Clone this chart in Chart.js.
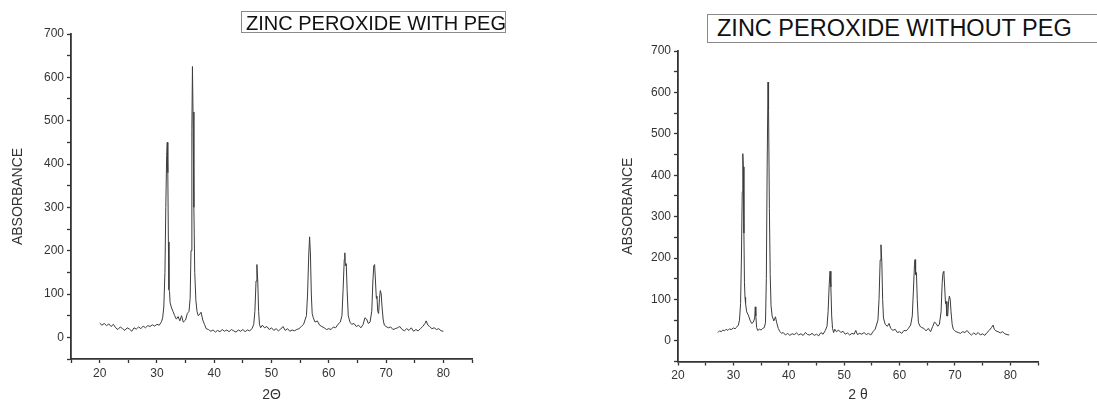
<!DOCTYPE html>
<html>
<head>
<meta charset="utf-8">
<script src="https://cdn.jsdelivr.net/npm/chart.js@4.4.1/dist/chart.umd.min.js"></script>
<style>
    body { margin: 0; width: 1097px; height: 402px; overflow: hidden; background: #fff; position: relative; font-family: "Liberation Sans", Arial, sans-serif; }
    .plot { position: absolute; top: 0; }
    .title-box { position: absolute; border: 1px solid #8a8a8a; color: #111; white-space: nowrap; line-height: 1; background: #fff; z-index: 2; }
</style>
</head>
<body>
<div class="plot" style="left:0;width:550px;height:404px;"><canvas id="withPeg"></canvas></div>
<div class="plot" style="left:550px;width:547px;height:404px;"><canvas id="withoutPeg"></canvas></div>
<div class="title-box" style="left:241px;top:11px;width:265px;height:22px;font-size:20px;padding:1px 0 0 4px;box-sizing:border-box;">ZINC PEROXIDE WITH PEG</div>
<div class="title-box" style="left:707px;top:14px;width:420px;height:29px;font-size:23.5px;padding:2px 0 0 9px;box-sizing:border-box;">ZINC PEROXIDE WITHOUT PEG</div>
<script>
// 2θ positions and intensities
const withPegX = [20, 20.4, 20.8, 21.2, 21.6, 22, 22.4, 22.8, 23.2, 23.6, 24, 24.4, 24.8, 25.2, 25.6, 26, 26.4, 26.8, 27.2, 27.6, 28, 28.4, 28.8, 29.2, 29.6, 30, 30.4, 30.8, 31.0, 31.2, 31.4, 31.55, 31.7, 31.8, 31.9, 32.0, 32.1, 32.2, 32.3, 32.5, 32.8, 33.1, 33.4, 33.7, 34, 34.3, 34.6, 35, 35.3, 35.6, 35.8, 35.95, 36.1, 36.2, 36.3, 36.45, 36.6, 36.8, 37.0, 37.2, 37.4, 37.7, 38, 38.3, 38.6, 39, 39.4, 39.8, 40.2, 40.6, 41, 41.4, 41.8, 42.2, 42.6, 43, 43.4, 43.8, 44.2, 44.6, 45, 45.4, 45.8, 46.2, 46.6, 46.9, 47.1, 47.3, 47.45, 47.6, 47.75, 47.9, 48.1, 48.4, 48.8, 49.2, 49.6, 50, 50.4, 50.8, 51.2, 51.6, 52, 52.4, 52.8, 53.2, 53.6, 54, 54.4, 54.8, 55.2, 55.6, 56.1, 56.3, 56.5, 56.65, 56.8, 56.95, 57.1, 57.3, 57.6, 58, 58.4, 58.8, 59.2, 59.6, 60, 60.4, 60.8, 61.2, 61.6, 62, 62.3, 62.5, 62.7, 62.8, 62.9, 63.05, 63.2, 63.4, 63.7, 64, 64.4, 64.8, 65.2, 65.6, 66, 66.3, 66.6, 66.9, 67.2, 67.5, 67.7, 67.85, 68.0, 68.15, 68.3, 68.4, 68.55, 68.7, 68.85, 69.0, 69.15, 69.3, 69.5, 69.7, 70, 70.4, 70.8, 71.2, 71.6, 72, 72.4, 72.8, 73.2, 73.6, 74, 74.4, 74.8, 75.2, 75.6, 76, 76.4, 76.8, 77.0, 77.3, 77.6, 78, 78.4, 78.8, 79.2, 79.6, 80];
const withPegY = [33, 28, 32, 27, 31, 25, 30, 22, 18, 24, 20, 16, 22, 19, 14, 22, 19, 24, 20, 26, 22, 27, 25, 29, 26, 30, 28, 36, 45, 70, 150, 300, 420, 450, 380, 220, 110, 105, 80, 70, 60, 50, 42, 48, 38, 50, 35, 40, 55, 60, 90, 200, 480, 625, 520, 300, 150, 85, 60, 50, 52, 58, 40, 30, 20, 18, 14, 17, 12, 16, 13, 18, 14, 17, 13, 18, 15, 12, 17, 14, 18, 13, 17, 15, 20, 30, 60, 130, 168, 130, 60, 30, 22, 28, 22, 25, 18, 22, 16, 20, 15, 19, 25, 16, 20, 14, 17, 15, 18, 20, 25, 30, 50, 100, 190, 232, 190, 100, 55, 45, 35, 38, 28, 25, 22, 18, 20, 18, 24, 22, 30, 35, 50, 110, 180, 195, 165, 170, 110, 50, 35, 30, 32, 25, 28, 22, 30, 45, 42, 32, 35, 60, 130, 165, 168, 130, 90, 95, 60, 55, 90, 108, 100, 70, 40, 28, 25, 22, 24, 18, 20, 22, 25, 18, 15, 20, 16, 22, 14, 18, 15, 20, 25, 32, 38, 28, 25, 20, 22, 18, 20, 15, 14];

const withoutPegX = [27.2, 27.5, 27.8, 28.1, 28.4, 28.7, 29, 29.3, 29.6, 30, 30.3, 30.6, 30.9, 31.1, 31.3, 31.45, 31.6, 31.7, 31.8, 31.9, 32.0, 32.1, 32.2, 32.4, 32.7, 33, 33.3, 33.6, 33.85, 33.95, 34.05, 34.2, 34.4, 34.7, 35, 35.3, 35.6, 35.8, 35.95, 36.1, 36.25, 36.35, 36.5, 36.65, 36.8, 37.0, 37.3, 37.6, 37.8, 38.1, 38.4, 38.7, 39, 39.4, 39.8, 40.2, 40.6, 41, 41.4, 41.8, 42.2, 42.6, 43, 43.4, 43.8, 44.2, 44.6, 45, 45.4, 45.8, 46.2, 46.6, 46.9, 47.1, 47.3, 47.45, 47.6, 47.75, 47.9, 48.1, 48.3, 48.6, 49, 49.4, 49.8, 50.2, 50.6, 51, 51.4, 51.8, 52.1, 52.4, 52.8, 53.2, 53.6, 54, 54.4, 54.8, 55.2, 55.6, 56.1, 56.3, 56.5, 56.65, 56.8, 56.95, 57.1, 57.4, 57.8, 58.1, 58.4, 58.8, 59.2, 59.6, 60, 60.4, 60.8, 61.2, 61.6, 62, 62.3, 62.5, 62.7, 62.8, 62.9, 63.05, 63.2, 63.4, 63.7, 64, 64.4, 64.8, 65.2, 65.6, 66, 66.3, 66.6, 66.9, 67.2, 67.5, 67.7, 67.85, 68.0, 68.15, 68.3, 68.4, 68.55, 68.7, 68.85, 69.0, 69.15, 69.3, 69.5, 69.7, 69.9, 70.2, 70.6, 71, 71.4, 71.8, 72.2, 72.6, 73, 73.4, 73.8, 74.2, 74.6, 75, 75.4, 75.8, 76.2, 76.6, 76.9, 77.1, 77.4, 77.8, 78.2, 78.6, 79, 79.4, 79.8, 80];
const withoutPegY = [20, 24, 22, 26, 24, 28, 25, 29, 27, 31, 29, 33, 38, 50, 90, 200, 360, 452, 420, 260, 140, 105, 90, 70, 62, 50, 42, 45, 55, 82, 60, 32, 25, 28, 26, 30, 32, 45, 150, 420, 625, 560, 320, 160, 85, 60, 48, 58, 45, 30, 22, 18, 20, 14, 18, 13, 17, 15, 19, 14, 17, 13, 20, 15, 14, 18, 13, 16, 12, 20, 16, 25, 35, 70, 135, 168, 130, 60, 30, 20, 28, 22, 26, 20, 23, 16, 19, 14, 18, 16, 25, 15, 18, 16, 20, 15, 18, 14, 22, 28, 50, 100, 195, 232, 190, 100, 55, 40, 35, 42, 30, 25, 28, 20, 22, 18, 25, 24, 30, 38, 60, 120, 185, 196, 160, 165, 100, 45, 35, 32, 30, 24, 30, 22, 35, 45, 42, 35, 40, 70, 140, 165, 168, 130, 90, 95, 60, 60, 95, 108, 100, 70, 40, 28, 25, 22, 20, 18, 22, 20, 25, 18, 14, 19, 15, 20, 14, 17, 13, 20, 25, 32, 38, 28, 24, 22, 19, 22, 17, 15, 14];

const yLabels = [0, 100, 200, 300, 400, 500, 600, 700];
const xLabels = [20, 30, 40, 50, 60, 70, 80];

const axisColor = '#333';
const tickFont = { family: '"Liberation Sans", Arial, sans-serif', size: 12 };
const titleFont = { family: '"Liberation Sans", Arial, sans-serif', size: 14 };

const makeChart = (canvas, xs, ys, cfg) => {
    const points = xs.map((x, i) => ({ x, y: ys[i] }));
    return new Chart(canvas, {
        type: 'line',
        data: {
            datasets: [{
                data: points,
                borderColor: '#3c3c3c',
                borderWidth: 1,
                pointRadius: 0,
                tension: 0,
                fill: false
            }]
        },
        options: {
            responsive: true,
            maintainAspectRatio: false,
            animation: false,
            layout: { padding: cfg.padding },
            plugins: { legend: { display: false }, tooltip: { enabled: false } },
            scales: {
                x: {
                    type: 'linear',
                    min: cfg.xMin,
                    max: 85,
                    afterBuildTicks: axis => { axis.ticks = []; for (let v = cfg.xMin; v <= 85; v += 5) axis.ticks.push({ value: v }); },
                    afterFit: axis => { axis.height = cfg.xHeight; },
                    border: { display: true, color: axisColor, width: 1.8 },
                    grid: { drawOnChartArea: false, drawTicks: true, tickLength: 4, tickColor: axisColor, tickWidth: 1.3 },
                    ticks: {
                        autoSkip: false,
                        maxRotation: 0,
                        color: '#333',
                        font: tickFont,
                        padding: 3,
                        callback: v => xLabels.includes(v) ? String(v) : ''
                    },
                    title: { display: true, text: cfg.xTitle, color: '#333', font: titleFont, padding: { top: 0, bottom: 0 } }
                },
                y: {
                    type: 'linear',
                    min: -50,
                    max: 700,
                    afterBuildTicks: axis => { axis.ticks = []; for (let v = -50; v <= 700; v += 50) axis.ticks.push({ value: v }); },
                    afterFit: axis => { axis.width = cfg.yWidth; },
                    border: { display: true, color: axisColor, width: 1.8 },
                    grid: { drawOnChartArea: false, drawTicks: true, tickLength: 4, tickColor: axisColor, tickWidth: 1.3 },
                    ticks: {
                        autoSkip: false,
                        color: '#333',
                        font: tickFont,
                        padding: 3,
                        callback: v => yLabels.includes(v) ? String(v) : ''
                    },
                    title: { display: true, text: 'ABSORBANCE', color: '#333', font: titleFont, padding: { top: cfg.yTitlePad, bottom: 0 } }
                }
            }
        }
    });
};

makeChart(document.getElementById('withPeg'), withPegX, withPegY, {
    padding: { left: 0, right: 78, top: 34, bottom: 0 },
    xMin: 15, xHeight: 45, yWidth: 71, yTitlePad: 10, xTitle: '2Θ'
});

makeChart(document.getElementById('withoutPeg'), withoutPegX, withoutPegY, {
    padding: { left: 60, right: 59, top: 51, bottom: 0 },
    xMin: 20, xHeight: 42.5, yWidth: 68, yTitlePad: 10, xTitle: '2 θ'
});
</script>
</body>
</html>
